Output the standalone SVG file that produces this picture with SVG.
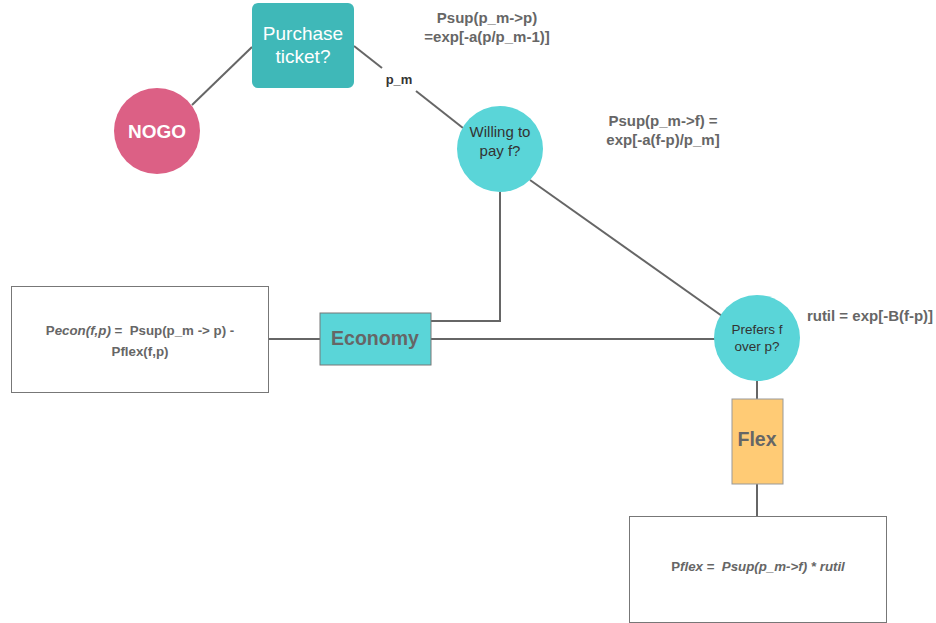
<svg xmlns="http://www.w3.org/2000/svg" width="936" height="623" viewBox="0 0 936 623">
<style>
  .ln { stroke: #666; stroke-width: 2; fill: none; }
  .box { fill: #fff; stroke: #777; stroke-width: 1; }
  .t { font-family: "Liberation Sans", Arial, sans-serif; text-anchor: middle; }
  .lab { font-weight: bold; fill: #666; font-size: 15px; }
  .frm { font-weight: bold; fill: #666; font-size: 13.3px; }
</style>
<rect width="936" height="623" fill="#fff"/>
<g id="connectors">
  <line class="ln" x1="192" y1="105" x2="252" y2="47"/>
  <polyline class="ln" points="354,46 382,68"/>
  <polyline class="ln" points="416,91 463,128"/>
  <polyline class="ln" points="500,192 500,321 431,321"/>
  <line class="ln" x1="530" y1="180" x2="722" y2="316"/>
  <line class="ln" x1="431" y1="339" x2="715" y2="339"/>
  <line class="ln" x1="269" y1="339" x2="320" y2="339"/>
  <line class="ln" x1="757" y1="381" x2="757" y2="399"/>
  <line class="ln" x1="757" y1="484" x2="757" y2="516"/>
  <text class="t" x="399" y="84" font-size="13" font-weight="bold" fill="#333">p_m</text>
</g>
<g id="purchase">
  <rect x="252" y="3" width="102" height="85" rx="6" fill="#3fb8b8"/>
  <text class="t" x="303" y="40" font-size="19" fill="#fff">Purchase</text>
  <text class="t" x="303" y="63" font-size="19" fill="#fff">ticket?</text>
</g>
<g id="nogo">
  <circle cx="157" cy="131" r="43" fill="#dc6085"/>
  <text class="t" x="157" y="138" font-size="19" font-weight="bold" fill="#fff">NOGO</text>
</g>
<g id="willing">
  <circle cx="500" cy="149" r="43" fill="#5ad5d8"/>
  <text class="t" x="500" y="137" font-size="15" fill="#333">Willing to</text>
  <text class="t" x="500" y="156" font-size="15" fill="#333">pay f?</text>
</g>
<g id="prefers">
  <circle cx="757" cy="338" r="43" fill="#5ad5d8"/>
  <text class="t" x="757" y="334" font-size="13.5" fill="#333">Prefers f</text>
  <text class="t" x="757" y="351" font-size="13.5" fill="#333">over p?</text>
</g>
<g id="economy">
  <rect x="320" y="313" width="111" height="52" fill="#5ad5d8" stroke="#777" stroke-width="1"/>
  <text class="t" x="375" y="345" font-size="19.5" font-weight="bold" fill="#666">Economy</text>
</g>
<g id="flex">
  <rect x="732" y="399" width="51" height="85" fill="#ffcb75" stroke="#999" stroke-width="1"/>
  <text class="t" x="757" y="446" font-size="19.5" font-weight="bold" fill="#666">Flex</text>
</g>
<g id="pecon">
  <rect class="box" x="11.5" y="286.5" width="257" height="106"/>
  <text class="t frm" x="140" y="335">P<tspan font-style="italic">econ(f,p)</tspan> =&#160; Psup(p_m -&gt; p) -</text>
  <text class="t frm" x="140" y="356">Pflex(f,p)</text>
</g>
<g id="pflex">
  <rect class="box" x="629.5" y="516.5" width="257" height="106"/>
  <text class="t frm" x="758" y="571">P<tspan font-style="italic">flex</tspan> =&#160; <tspan font-style="italic">Psup(p_m-&gt;f) * rutil</tspan></text>
</g>
<g id="psup-p">
  <text class="t lab" x="487" y="23">Psup(p_m-&gt;p)</text>
  <text class="t lab" x="487" y="42">=exp[-a(p/p_m-1)]</text>
</g>
<g id="psup-f">
  <text class="t lab" x="663" y="126">Psup(p_m-&gt;f) =</text>
  <text class="t lab" x="663" y="145">exp[-a(f-p)/p_m]</text>
</g>
<g id="rutil">
  <text class="t lab" x="870" y="321">rutil = exp[-B(f-p)]</text>
</g>
</svg>
